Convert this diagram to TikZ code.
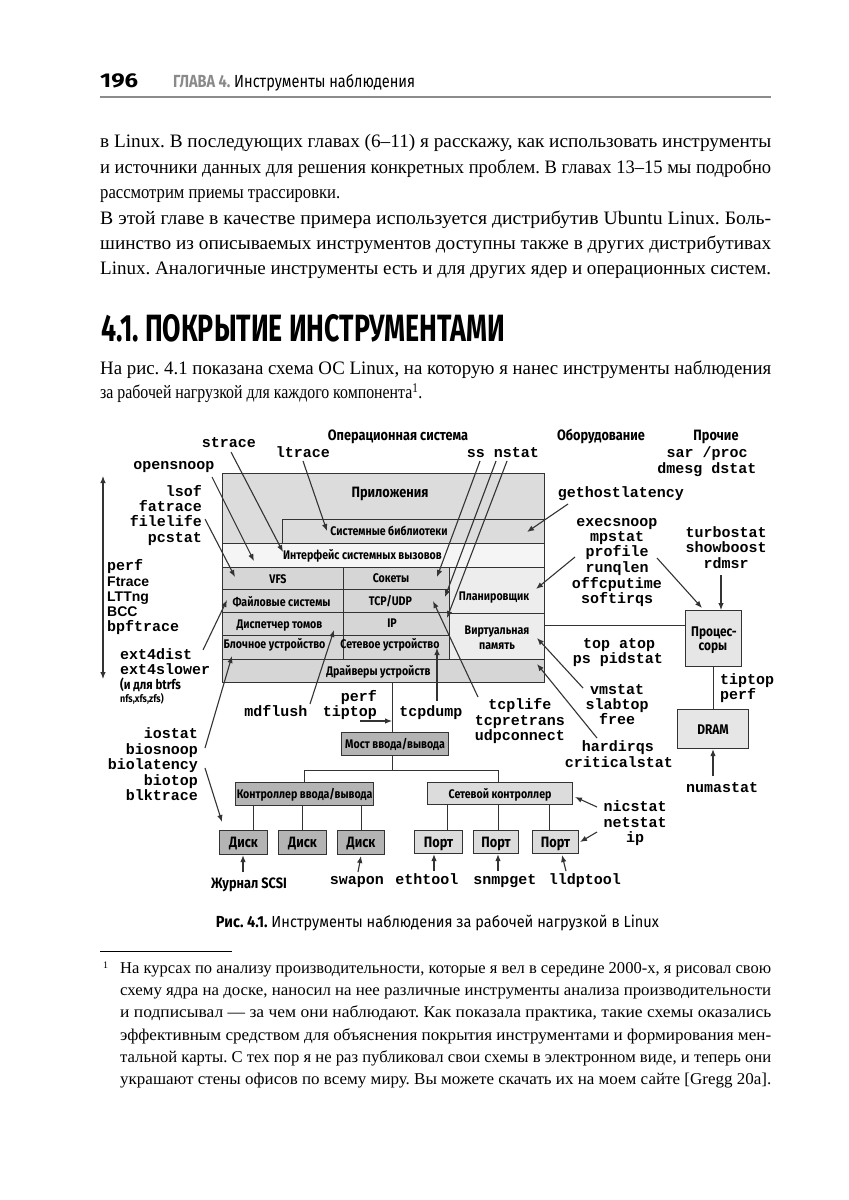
\documentclass[tikz,border=0pt]{standalone}
\usepackage{fontspec}
\usepackage{graphicx}
\setmainfont{Liberation Serif}
\newfontfamily\hsans{Fira Sans}
\newfontfamily\csans[FakeStretch=0.85]{Fira Sans}
\newfontfamily\mono{Liberation Mono}
\newfontfamily\asans{Liberation Sans}
\usetikzlibrary{arrows.meta}
\frenchspacing
\definecolor{lc}{HTML}{333333}
\definecolor{hgray}{HTML}{8A8A8A}
\definecolor{rulegray}{HTML}{8C8C8C}
\definecolor{gA}{HTML}{DCDCDC}
\definecolor{gW}{HTML}{F5F5F5}
\definecolor{gB}{HTML}{D6D6D6}
\definecolor{gC}{HTML}{EDEDED}
\definecolor{gD}{HTML}{B4B4B4}
\definecolor{gL}{HTML}{DCDCDC}
\definecolor{gH}{HTML}{E6E6E6}
\newcommand\jline[4]{\node[anchor=base west,inner sep=0] (#1) at (#2) {\resizebox{#3}{\height}{\frenchspacing\fontsize{19}{19}\selectfont #4}};}
\newcommand\fline[4]{\node[anchor=base west,inner sep=0] (#1) at (#2) {\resizebox{#3}{\height}{\frenchspacing\fontsize{16.5}{16.5}\selectfont #4}};}
\tikzset{
  arr/.style={draw=lc, line width=1.1pt, -{Latex[length=7pt,width=5.5pt]}},
  darr/.style={draw=lc, line width=1.1pt, {Latex[length=7pt,width=5.5pt]}-{Latex[length=7pt,width=5.5pt]}},
  ln/.style={draw=lc, line width=1.1pt},
  bx/.style={draw=lc, line width=1.1pt, inner sep=0, anchor=north west},
  bxt/.style={draw=lc, line width=1.1pt, inner sep=0, anchor=north west, text height=9pt, text depth=0pt, font=\csans\bfseries\fontsize{12.5}{12.5}\selectfont},
  bxd/.style={draw=lc, line width=1.1pt, inner sep=0, anchor=north west, text height=10.5pt, text depth=0pt, font=\csans\bfseries\fontsize{15}{15}\selectfont},
  mt/.style={font=\mono\bfseries\fontsize{15}{15}\selectfont, inner sep=0},
  lb/.style={font=\csans\bfseries\fontsize{12.5}{12.5}\selectfont, inner sep=0},
  lbb/.style={font=\csans\bfseries\fontsize{15}{15}\selectfont, inner sep=0},
  as/.style={font=\asans\bfseries\fontsize{14}{14}\selectfont, inner sep=0},
}
\begin{document}
\begin{tikzpicture}[x=1pt,y=-1pt]
\fill[white] (0,0) rectangle (849,1200);
\useasboundingbox (0,0) rectangle (849,1200);

% ---------- running head ----------
\node[anchor=base west,inner sep=0] (pgno) at (100,87) {\resizebox{38pt}{\height}{\hsans\bfseries\fontsize{20}{20}\selectfont 196}};
\node[anchor=base west,inner sep=0] (runhead) at (173,87) {\resizebox{242pt}{\height}{\hsans\fontsize{17.5}{17.5}\selectfont{\bfseries\color{hgray}ГЛАВА 4.}\ Инструменты наблюдения}};
\draw[draw=rulegray, line width=1.6pt] (100,97) -- (771,97);

% ---------- body text ----------
\jline{p1a}{100,147.5}{671pt}{в Linux. В последующих главах (6–11) я расскажу, как использовать инструменты}
\jline{p1b}{100,173}{671pt}{и источники данных для решения конкретных проблем. В главах 13–15 мы подробно}
\jline{p1c}{100,198.5}{240pt}{рассмотрим приемы трассировки.}
\jline{p2a}{100,224.5}{671pt}{В этой главе в качестве примера используется дистрибутив Ubuntu Linux. Боль-}
\jline{p2b}{100,249.5}{671pt}{шинство из описываемых инструментов доступны также в других дистрибутивах}
\jline{p2c}{100,274.5}{671pt}{Linux. Аналогичные инструменты есть и для других ядер и операционных систем.}

\node[anchor=base west,inner sep=0] (h41) at (101,341) {\resizebox{404pt}{27pt}{\hsans\bfseries 4.1. ПОКРЫТИЕ ИНСТРУМЕНТАМИ}};

\jline{p3a}{100,374.5}{671pt}{На рис. 4.1 показана схема ОС Linux, на которую я нанес инструменты наблюдения}
\jline{p3b}{100,398.5}{322pt}{за рабочей нагрузкой для каждого компонента\textsuperscript{1}.}

% ---------- diagram: category headers ----------
\node[lbb, anchor=base] (hOS) at (398,440) {Операционная система};
\node[lbb, anchor=base] (hHW) at (601,440) {Оборудование};
\node[lbb, anchor=base] (hOT) at (716,440) {Прочие};
\node[mt, anchor=base] (sarproc) at (707,457.5) {sar /proc};
\node[mt, anchor=base] (dmesg) at (707,473) {dmesg dstat};

% ---------- OS stack ----------
\node[bx, fill=gA, minimum width=322pt, minimum height=70pt] (apps) at (222,473) {};
\node[bx, fill=gA, minimum width=262pt, minimum height=24pt] (syslib) at (282,519) {};
\node[bx, fill=gW, minimum width=322pt, minimum height=24pt] (sysc) at (222,543) {};
\node[bx, fill=gB, minimum width=121pt, minimum height=22pt] (vfs) at (222,567) {};
\node[bx, fill=gB, minimum width=121pt, minimum height=23pt] (fsys) at (222,589) {};
\node[bx, fill=gB, minimum width=121pt, minimum height=23pt] (vol) at (222,612) {};
\node[bx, fill=gB, minimum width=121pt, minimum height=24pt] (blk) at (222,635) {};
\node[bx, fill=gB, minimum width=106pt, minimum height=22pt] (sock) at (343,567) {};
\node[bx, fill=gB, minimum width=106pt, minimum height=23pt] (tcp) at (343,589) {};
\node[bx, fill=gB, minimum width=106pt, minimum height=23pt] (ipl) at (343,612) {};
\node[bx, fill=gB, minimum width=106pt, minimum height=24pt] (netdev) at (343,635) {};
\node[bx, fill=gC, minimum width=95pt, minimum height=46pt] (sched) at (449,567) {};
\node[bx, fill=gC, minimum width=95pt, minimum height=46pt] (vm) at (449,613) {};
\node[bx, fill=gB, minimum width=322pt, minimum height=23pt] (drv) at (222,659) {};
\node[bx, minimum width=322pt, minimum height=209pt] (os) at (222,473) {};

\node[lbb, anchor=base] (tApps) at (390,497.5) {Приложения};
\node[lb, anchor=base] (tLib) at (389,535.5) {Системные библиотеки};
\node[lb, anchor=base] (tSys) at (362.5,559) {Интерфейс системных вызовов};
\node[lb, anchor=base] (tVfs) at (278,583) {VFS};
\node[lb, anchor=base] (tFs) at (281.5,606) {Файловые системы};
\node[lb, anchor=base] (tVol) at (279.5,628) {Диспетчер томов};
\node[lb, anchor=base] (tBlk) at (274.5,648) {Блочное устройство};
\node[lb, anchor=base] (tSock) at (391,582.5) {Сокеты};
\node[lb, anchor=base] (tTcp) at (390.5,605.5) {TCP/UDP};
\node[lb, anchor=base] (tIp) at (392,627.5) {IP};
\node[lb, anchor=base] (tNd) at (390,648.5) {Сетевое устройство};
\node[lb, anchor=base] (tSch) at (494,600.5) {Планировщик};
\node[lb, anchor=base] (tVm1) at (497,634.5) {Виртуальная};
\node[lb, anchor=base] (tVm2) at (497,649) {память};
\node[lb, anchor=base] (tDrv) at (378.5,675) {Драйверы устройств};

% ---------- hardware ----------
\node[bx, fill=gH, minimum width=56pt, minimum height=56pt] (cpu) at (685,610) {};
\node[lb, font=\csans\bfseries\fontsize{14}{14}\selectfont, anchor=base] (tCpu1) at (714,636) {Процес-};
\node[lb, font=\csans\bfseries\fontsize{14}{14}\selectfont, anchor=base] (tCpu2) at (713,650) {соры};
\node[bxd, fill=gH, minimum width=71pt, minimum height=39pt, font=\csans\bfseries\fontsize{14}{14}\selectfont] (dram) at (677,709) {DRAM};

\node[bxt, fill=gD, minimum width=107pt, minimum height=23pt] (bridge) at (341,732) {Мост ввода/вывода};
\node[bxt, fill=gD, minimum width=138pt, minimum height=23pt] (ioctl) at (235,782) {Контроллер ввода/вывода};
\node[bxt, fill=gL, minimum width=145pt, minimum height=22pt] (netctl) at (427,782) {Сетевой контроллер};
\node[bxd, fill=gD, minimum width=48pt, minimum height=24pt] (d1) at (219,830) {Диск};
\node[bxd, fill=gD, minimum width=48pt, minimum height=24pt] (d2) at (278,830) {Диск};
\node[bxd, fill=gD, minimum width=47pt, minimum height=24pt] (d3) at (337,830) {Диск};
\node[bxd, fill=gL, minimum width=48pt, minimum height=23pt] (p1) at (414,830) {Порт};
\node[bxd, fill=gL, minimum width=45pt, minimum height=23pt] (p2) at (473,830) {Порт};
\node[bxd, fill=gL, minimum width=46pt, minimum height=23pt] (p3) at (532,830) {Порт};

% structural connectors
\coordinate (brl) at ([xshift=-3pt]bridge.north);
\draw[ln] (brl |- drv.south) -- (brl);
\draw[ln] ([xshift=-3pt]bridge.south) -- ++(0,14) coordinate (bus);
\draw[ln] (ioctl.north) |- (bus) -| ([xshift=-1.5pt]netctl.north);
\draw[ln] ([xshift=10pt]d1.north) -- ([xshift=10pt]d1.north |- ioctl.south);
\draw[ln] (d2.north) -- (d2.north |- ioctl.south);
\draw[ln] (d3.north) -- (d3.north |- ioctl.south);
\draw[ln] ([xshift=9pt]p1.north) -- ([xshift=9pt]p1.north |- netctl.south);
\draw[ln] ([xshift=2.5pt]p2.north) -- ([xshift=2.5pt]p2.north |- netctl.south);
\draw[ln] ([xshift=-6pt]p3.north) -- ([xshift=-6pt]p3.north |- netctl.south);
\draw[ln] ([yshift=13pt]cpu.west) -- ([yshift=13pt]cpu.west -| vm.east);
\draw[ln] (cpu.south) -- (cpu.south |- dram.north);

% ---------- tool labels ----------
\node[mt, anchor=base] (lStrace) at (229,447.5) {strace};
\node[mt, anchor=base] (lLtrace) at (303,457.5) {ltrace};
\node[mt, anchor=base] (lOpen) at (174,469.5) {opensnoop};
\node[mt, anchor=base east] (lLsof) at (202,496) {lsof};
\node[mt, anchor=base east] (lFat) at (202,511.5) {fatrace};
\node[mt, anchor=base east] (lFl) at (202,526.5) {filelife};
\node[mt, anchor=base east] (lPc) at (202,542) {pcstat};
\node[mt, anchor=base] (lSs) at (503,457.5) {ss nstat};
\node[mt, anchor=base] (lGhl) at (621,497) {gethostlatency};

\node[mt, anchor=base west] (lPerf) at (107,570) {perf};
\node[as, anchor=base west] (lFtr) at (107,586) {Ftrace};
\node[as, anchor=base west] (lLtt) at (107,601.5) {LTTng};
\node[as, anchor=base west] (lBcc) at (107,616.5) {BCC};
\node[mt, anchor=base west] (lBpf) at (107,631.5) {bpftrace};

\node[mt, anchor=base west] (lExt1) at (120,659.5) {ext4dist};
\node[mt, anchor=base west] (lExt2) at (120,674.5) {ext4slower};
\node[lb, font=\csans\bfseries\fontsize{13.5}{13.5}\selectfont, anchor=base west] (lExt3) at (120,689.5) {(и для btrfs};
\node[lb, font=\csans\bfseries\fontsize{10.5}{10.5}\selectfont, anchor=base west] (lExt4) at (120,702) {nfs,xfs,zfs)};

\node[mt, anchor=base east] (lIo1) at (198,738.5) {iostat};
\node[mt, anchor=base east] (lIo2) at (198,754) {biosnoop};
\node[mt, anchor=base east] (lIo3) at (198,769) {biolatency};
\node[mt, anchor=base east] (lIo4) at (198,785) {biotop};
\node[mt, anchor=base east] (lIo5) at (198,800.5) {blktrace};

\node[mt, anchor=base] (lMdf) at (276,716.5) {mdflush};
\node[mt, anchor=base east] (lPerf2) at (377,701.5) {perf};
\node[mt, anchor=base east] (lTip) at (377,716.5) {tiptop};
\node[mt, anchor=base] (lDump) at (431,716) {tcpdump};
\node[mt, anchor=base] (lTl1) at (520,709.5) {tcplife};
\node[mt, anchor=base] (lTl2) at (520,725.5) {tcpretrans};
\node[mt, anchor=base] (lTl3) at (520,740.5) {udpconnect};

\node[mt, anchor=base] (lEx1) at (617,526) {execsnoop};
\node[mt, anchor=base] (lEx2) at (617,541) {mpstat};
\node[mt, anchor=base] (lEx3) at (617,556) {profile};
\node[mt, anchor=base] (lEx4) at (617,572) {runqlen};
\node[mt, anchor=base] (lEx5) at (617,588) {offcputime};
\node[mt, anchor=base] (lEx6) at (617,603) {softirqs};
\node[mt, anchor=base] (lTb1) at (726,537) {turbostat};
\node[mt, anchor=base] (lTb2) at (726,552.5) {showboost};
\node[mt, anchor=base] (lTb3) at (726,568.5) {rdmsr};
\node[mt, anchor=base] (lTop1) at (619,648) {top atop};
\node[mt, anchor=base] (lTop2) at (618,663) {ps pidstat};
\node[mt, anchor=base] (lVm1) at (617,694) {vmstat};
\node[mt, anchor=base] (lVm2) at (617,709.5) {slabtop};
\node[mt, anchor=base] (lVm3) at (617,724.5) {free};
\node[mt, anchor=base] (lHi1) at (618,751.5) {hardirqs};
\node[mt, anchor=base] (lHi2) at (619,767.5) {criticalstat};
\node[mt, anchor=base west] (lTp1) at (720,684.5) {tiptop};
\node[mt, anchor=base west] (lTp2) at (720,699) {perf};
\node[mt, anchor=base] (lNuma) at (722,792.5) {numastat};
\node[mt, anchor=base] (lNic1) at (635,811.5) {nicstat};
\node[mt, anchor=base] (lNic2) at (635,827.5) {netstat};
\node[mt, anchor=base] (lNic3) at (635,842.5) {ip};

\node[lbb, anchor=base] (lScsi) at (249,888) {Журнал SCSI};
\node[mt, anchor=base] (lSwap) at (357,884.5) {swapon};
\node[mt, anchor=base] (lEth) at (427,884.5) {ethtool};
\node[mt, anchor=base] (lSnmp) at (505,884.5) {snmpget};
\node[mt, anchor=base] (lLldp) at (585,884.5) {lldptool};

% ---------- arrows ----------
\coordinate (da1) at (103,476); \coordinate (da2) at (103,679);
\draw[darr] (da1) -- (da2);
\coordinate (a1s) at (231,452); \coordinate (a1e) at (283,552);
\draw[arr] (a1s) -- (a1e);
\coordinate (a2s) at (303,461); \coordinate (a2e) at (327,531);
\draw[arr] (a2s) -- (a2e);
\coordinate (a3s) at (212,477); \coordinate (a3e) at (254,561);
\draw[arr] (a3s) -- (a3e);
\coordinate (a4s) at (205,519); \coordinate (a4e) at (235,577);
\draw[arr] (a4s) -- (a4e);
\coordinate (a5s) at (480,461); \coordinate (a5e) at (437,577);
\draw[arr] (a5s) -- (a5e);
\coordinate (a6s) at (496,461); \coordinate (a6e) at (445,597);
\draw[arr] (a6s) -- (a6e);
\coordinate (a7s) at (507,461); \coordinate (a7e) at (447,618);
\draw[arr] (a7s) -- (a7e);
\coordinate (a8s) at (568,504); \coordinate (a8e) at (527,532);
\draw[arr] (a8s) -- (a8e);
\coordinate (a9s) at (575,557); \coordinate (a9e) at (536,589);
\draw[arr] (a9s) -- (a9e);
\coordinate (a10s) at (657,558); \coordinate (a10e) at (702,608);
\draw[arr] (a10s) -- (a10e);
\coordinate (a11s) at (721,575);
\draw[arr] (a11s) -- (a11s |- cpu.north);
\coordinate (a12s) at (713,776);
\draw[arr] (a12s) -- (a12s |- dram.south);
\coordinate (a13s) at (583,688); \coordinate (a13e) at (537,638);
\draw[arr] (a13s) -- (a13e);
\coordinate (a14s) at (597,738); \coordinate (a14e) at (537,664);
\draw[arr] (a14s) -- (a14e);
\coordinate (a15s) at (478,697); \coordinate (a15e) at (433,601);
\draw[arr] (a15s) -- (a15e);
\coordinate (a16s) at (437,701); \coordinate (a16e) at (437,648);
\draw[arr] (a16s) -- (a16e);
\coordinate (a17s) at (310,704); \coordinate (a17e) at (334,630);
\draw[arr] (a17s) -- (a17e);
\coordinate (a18s) at (360,721);
\draw[arr] (a18s) -- (a18s -| brl);
\coordinate (a19s) at (203,650); \coordinate (a19e) at (227,600);
\draw[arr] (a19s) -- (a19e);
\coordinate (a20s) at (205,748); \coordinate (a20e) at (232,656);
\draw[arr] (a20s) -- (a20e);
\coordinate (a21s) at (205,768); \coordinate (a21e) at (222,822);
\draw[arr] (a21s) -- (a21e);
\coordinate (a22s) at (243,872);
\draw[arr] (a22s) -- (a22s |- d1.south);
\coordinate (a23s) at (358,872); \coordinate (a23e) at (361,856);
\draw[arr] (a23s) -- (a23e);
\coordinate (a24s) at (434,871);
\draw[arr] (a24s) -- (a24s |- p1.south);
\coordinate (a25s) at (498,871);
\draw[arr] (a25s) -- (a25s |- p2.south);
\coordinate (a26s) at (566,871); \coordinate (a26e) at (562,855);
\draw[arr] (a26s) -- (a26e);
\coordinate (a27s) at (597,807); \coordinate (a27e) at (575,797);
\draw[arr] (a27s) -- (a27e);
\coordinate (a28s) at (597,832); \coordinate (a28e) at (580,842);
\draw[arr] (a28s) -- (a28e);

% ---------- caption ----------
\node[anchor=base,inner sep=0] (cap) at (437.5,927.5) {\resizebox{443pt}{\height}{\hsans\fontsize{16}{16}\selectfont{\bfseries Рис. 4.1.}\ Инструменты наблюдения за рабочей нагрузкой в Linux}};

% ---------- footnote ----------
\draw[line width=0.6pt] (100,951) -- (232,951);
\node[anchor=base west,inner sep=0] (fnm) at (103,968) {\fontsize{10}{10}\selectfont 1};
\fline{f1}{120,973.5}{651pt}{На курсах по анализу производительности, которые я вел в середине 2000-х, я рисовал свою}
\fline{f2}{120,995.5}{651pt}{схему ядра на доске, наносил на нее различные инструменты анализа производительности}
\fline{f3}{120,1017.5}{651pt}{и подписывал — за чем они наблюдают. Как показала практика, такие схемы оказались}
\fline{f4}{120,1040}{651pt}{эффективным средством для объяснения покрытия инструментами и формирования мен-}
\fline{f5}{120,1062}{651pt}{тальной карты. С тех пор я не раз публиковал свои схемы в электронном виде, и теперь они}
\fline{f6}{120,1084}{651pt}{украшают стены офисов по всему миру. Вы можете скачать их на моем сайте [Gregg 20a].}
\end{tikzpicture}
\end{document}
